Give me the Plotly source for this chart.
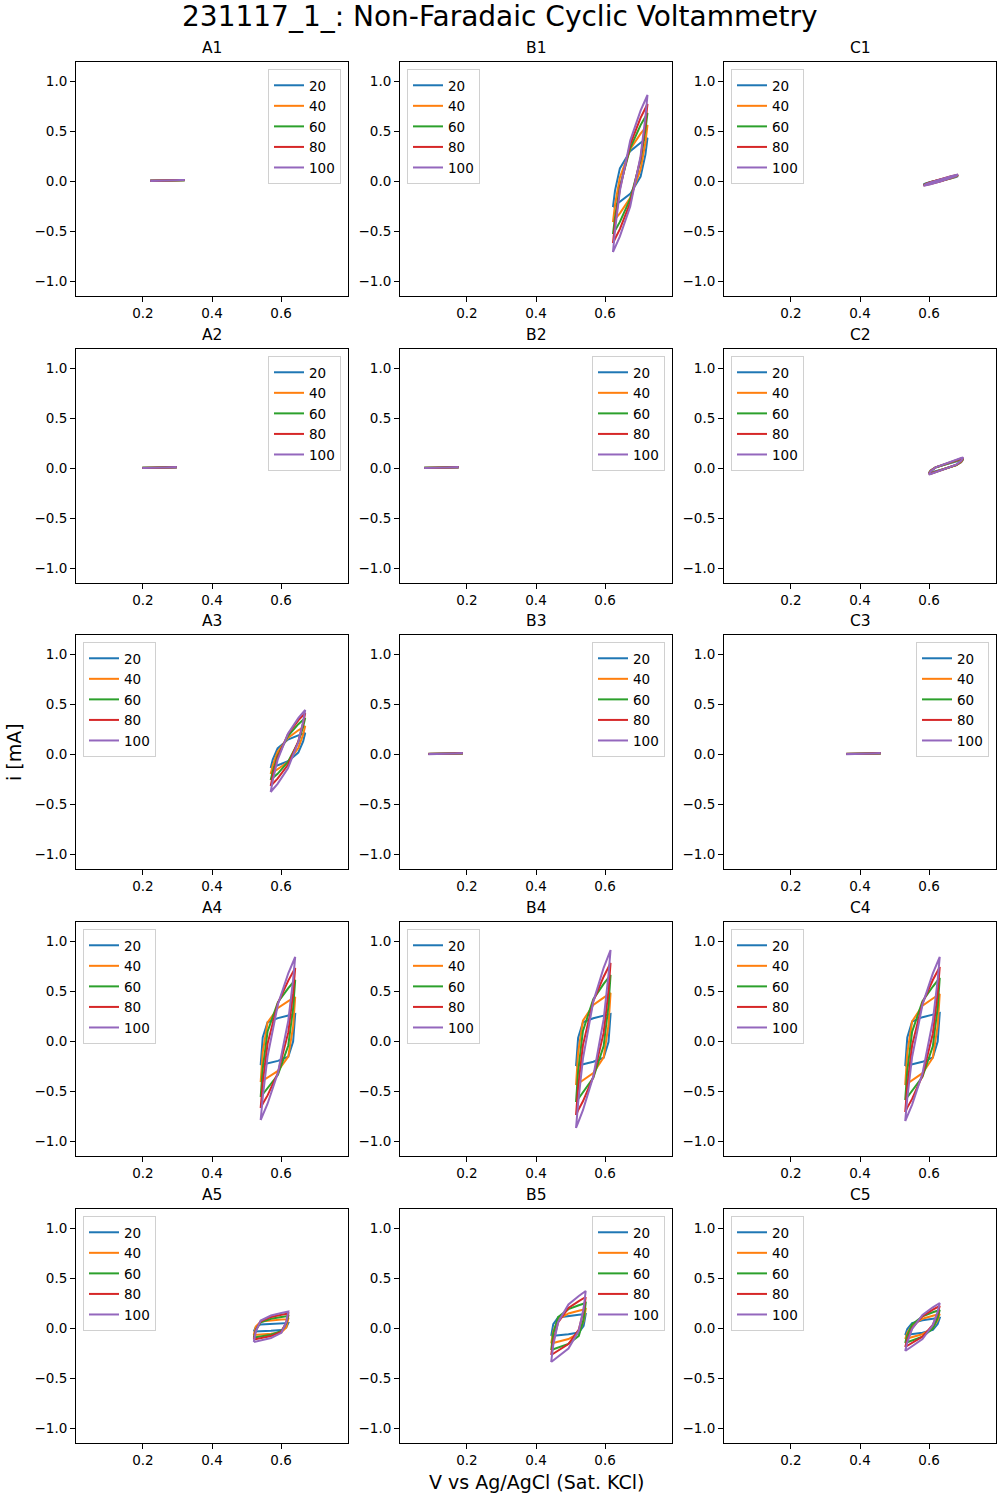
import plotly.graph_objects as go

# scan rates (mV/s) and matplotlib tab10 colours
RATES = ["20", "40", "60", "80", "100"]
COLORS = ["#1f77b4", "#ff7f0e", "#2ca02c", "#d62728", "#9467bd"]

# each panel: potential grid (V) for the forward sweep, and for every scan rate
# the current (mA) along the forward sweep followed by the reverse sweep

V_A1 = [0.221, 0.321]
I_A1 = [
    [0.004, 0.007, 0.005, 0.002],
    [0.003, 0.008, 0.005, 0.001],
    [0.003, 0.008, 0.006, 0.001],
    [0.002, 0.009, 0.006, 0.000],
    [0.002, 0.009, 0.007, 0.000],
]

V_B1 = [0.623, 0.629, 0.643, 0.673, 0.703, 0.717, 0.723]
I_B1 = [
    [-0.26, -0.094, 0.126, 0.299, 0.382, 0.416, 0.43, 0.43, 0.264, 0.044, -0.129, -0.212, -0.246, -0.26],
    [-0.41, -0.235, 0.036, 0.318, 0.473, 0.531, 0.56, 0.56, 0.385, 0.114, -0.167, -0.323, -0.381, -0.41],
    [-0.53, -0.361, -0.058, 0.329, 0.559, 0.644, 0.68, 0.68, 0.511, 0.208, -0.179, -0.409, -0.494, -0.53],
    [-0.62, -0.425, -0.078, 0.367, 0.631, 0.728, 0.77, 0.77, 0.575, 0.228, -0.217, -0.481, -0.578, -0.62],
    [-0.71, -0.49, -0.098, 0.405, 0.703, 0.813, 0.86, 0.86, 0.64, 0.248, -0.255, -0.553, -0.663, -0.71],
]

V_C1 = [0.584, 0.590, 0.604, 0.634, 0.664, 0.678, 0.684]
I_C1 = [
    [-0.035, -0.024, -0.009, 0.016, 0.038, 0.047, 0.05, 0.05, 0.039, 0.025, -0.001, -0.023, -0.032, -0.035],
    [-0.04, -0.028, -0.012, 0.017, 0.042, 0.052, 0.055, 0.055, 0.043, 0.027, -0.002, -0.027, -0.037, -0.04],
    [-0.042, -0.029, -0.011, 0.019, 0.046, 0.056, 0.06, 0.06, 0.047, 0.029, -0.001, -0.028, -0.038, -0.042],
    [-0.045, -0.031, -0.013, 0.019, 0.047, 0.058, 0.062, 0.062, 0.048, 0.03, -0.002, -0.03, -0.041, -0.045],
    [-0.048, -0.033, -0.014, 0.02, 0.049, 0.061, 0.065, 0.065, 0.05, 0.031, -0.003, -0.032, -0.044, -0.048],
]

V_A2 = [0.198, 0.298]
I_A2 = [
    [0.003, 0.006, 0.004, 0.001],
    [0.002, 0.007, 0.004, 0.000],
    [0.002, 0.007, 0.005, 0.000],
    [0.001, 0.008, 0.005, -0.001],
    [0.001, 0.008, 0.006, -0.001],
]

V_B2 = [0.076, 0.176]
I_B2 = [
    [0.003, 0.006, 0.004, 0.001],
    [0.002, 0.007, 0.004, 0.000],
    [0.002, 0.007, 0.005, 0.000],
    [0.001, 0.008, 0.005, -0.001],
    [0.001, 0.008, 0.006, -0.001],
]

V_C2 = [0.599, 0.605, 0.619, 0.649, 0.679, 0.693, 0.699]
I_C2 = [
    [-0.05, -0.023, 0.007, 0.039, 0.069, 0.081, 0.085, 0.085, 0.058, 0.028, -0.004, -0.034, -0.046, -0.05],
    [-0.055, -0.026, 0.006, 0.041, 0.073, 0.086, 0.09, 0.09, 0.061, 0.029, -0.006, -0.038, -0.051, -0.055],
    [-0.06, -0.029, 0.005, 0.042, 0.076, 0.09, 0.095, 0.095, 0.064, 0.03, -0.007, -0.041, -0.055, -0.06],
    [-0.062, -0.03, 0.006, 0.045, 0.081, 0.095, 0.1, 0.1, 0.068, 0.032, -0.007, -0.043, -0.057, -0.062],
    [-0.065, -0.031, 0.006, 0.047, 0.085, 0.1, 0.105, 0.105, 0.071, 0.034, -0.007, -0.045, -0.06, -0.065],
]

V_A3 = [0.570, 0.576, 0.590, 0.620, 0.650, 0.664, 0.670]
I_A3 = [
    [-0.14, -0.056, 0.056, 0.144, 0.186, 0.203, 0.21, 0.21, 0.126, 0.014, -0.073, -0.115, -0.133, -0.14],
    [-0.20, -0.114, 0.021, 0.16, 0.237, 0.266, 0.28, 0.28, 0.194, 0.059, -0.08, -0.157, -0.186, -0.20],
    [-0.26, -0.173, -0.018, 0.18, 0.298, 0.341, 0.36, 0.36, 0.273, 0.118, -0.08, -0.198, -0.241, -0.26],
    [-0.32, -0.218, -0.035, 0.198, 0.337, 0.388, 0.41, 0.41, 0.308, 0.125, -0.108, -0.247, -0.298, -0.32],
    [-0.38, -0.265, -0.06, 0.202, 0.358, 0.415, 0.44, 0.44, 0.325, 0.12, -0.142, -0.298, -0.355, -0.38],
]

V_B3 = [0.088, 0.188]
I_B3 = [
    [0.002, 0.005, 0.003, 0.000],
    [0.002, 0.006, 0.004, 0.000],
    [0.001, 0.006, 0.004, -0.001],
    [0.001, 0.007, 0.005, -0.001],
    [0.000, 0.007, 0.005, -0.002],
]

V_C3 = [0.360, 0.460]
I_C3 = [
    [0.002, 0.005, 0.003, 0.000],
    [0.002, 0.006, 0.004, 0.000],
    [0.001, 0.006, 0.004, -0.001],
    [0.001, 0.007, 0.005, -0.001],
    [0.000, 0.007, 0.005, -0.002],
]

V_A4 = [0.541, 0.547, 0.561, 0.591, 0.621, 0.635, 0.641]
I_A4 = [
    [-0.24, 0.035, 0.188, 0.229, 0.255, 0.265, 0.27, 0.27, -0.005, -0.158, -0.199, -0.225, -0.235, -0.24],
    [-0.41, -0.112, 0.185, 0.33, 0.398, 0.427, 0.44, 0.44, 0.143, -0.155, -0.299, -0.367, -0.397, -0.41],
    [-0.56, -0.279, 0.095, 0.388, 0.528, 0.587, 0.61, 0.61, 0.329, -0.045, -0.338, -0.478, -0.537, -0.56],
    [-0.67, -0.418, -0.026, 0.38, 0.604, 0.688, 0.73, 0.73, 0.478, 0.086, -0.32, -0.544, -0.628, -0.67],
    [-0.79, -0.562, -0.154, 0.367, 0.677, 0.791, 0.84, 0.84, 0.612, 0.204, -0.317, -0.627, -0.741, -0.79],
]

V_B4 = [0.516, 0.522, 0.536, 0.566, 0.596, 0.610, 0.616]
I_B4 = [
    [-0.25, 0.031, 0.187, 0.228, 0.254, 0.265, 0.27, 0.27, -0.011, -0.167, -0.208, -0.234, -0.245, -0.25],
    [-0.44, -0.118, 0.204, 0.36, 0.434, 0.466, 0.48, 0.48, 0.158, -0.164, -0.32, -0.394, -0.426, -0.44],
    [-0.61, -0.305, 0.101, 0.419, 0.571, 0.635, 0.66, 0.66, 0.355, -0.051, -0.369, -0.521, -0.585, -0.61],
    [-0.74, -0.466, -0.041, 0.40, 0.643, 0.734, 0.78, 0.78, 0.506, 0.081, -0.36, -0.603, -0.694, -0.74],
    [-0.87, -0.621, -0.176, 0.394, 0.732, 0.857, 0.91, 0.91, 0.661, 0.216, -0.354, -0.692, -0.817, -0.87],
]

V_C4 = [0.531, 0.537, 0.551, 0.581, 0.611, 0.625, 0.631]
I_C4 = [
    [-0.25, 0.036, 0.195, 0.238, 0.264, 0.275, 0.28, 0.28, -0.006, -0.165, -0.208, -0.234, -0.245, -0.25],
    [-0.44, -0.121, 0.197, 0.352, 0.425, 0.456, 0.47, 0.47, 0.152, -0.167, -0.322, -0.394, -0.426, -0.44],
    [-0.59, -0.297, 0.093, 0.398, 0.545, 0.606, 0.63, 0.63, 0.337, -0.053, -0.358, -0.505, -0.566, -0.59],
    [-0.71, -0.449, -0.043, 0.378, 0.61, 0.697, 0.74, 0.74, 0.479, 0.073, -0.347, -0.579, -0.666, -0.71],
    [-0.80, -0.57, -0.16, 0.364, 0.676, 0.791, 0.84, 0.84, 0.61, 0.20, -0.324, -0.636, -0.751, -0.80],
]

V_A5 = [0.521, 0.527, 0.541, 0.571, 0.601, 0.615, 0.621]
I_A5 = [
    [-0.035, 0.011, 0.036, 0.043, 0.047, 0.049, 0.05, 0.05, 0.004, -0.021, -0.028, -0.032, -0.034, -0.035],
    [-0.07, 0.016, 0.064, 0.077, 0.085, 0.088, 0.09, 0.09, 0.004, -0.044, -0.057, -0.065, -0.068, -0.07],
    [-0.095, -0.02, 0.056, 0.092, 0.109, 0.117, 0.12, 0.12, 0.045, -0.03, -0.067, -0.084, -0.092, -0.095],
    [-0.115, -0.024, 0.067, 0.111, 0.132, 0.141, 0.145, 0.145, 0.054, -0.037, -0.081, -0.102, -0.111, -0.115],
    [-0.14, -0.033, 0.074, 0.125, 0.15, 0.16, 0.165, 0.165, 0.058, -0.048, -0.10, -0.125, -0.135, -0.14],
]

V_B5 = [0.444, 0.450, 0.464, 0.494, 0.524, 0.538, 0.544]
I_B5 = [
    [-0.08, 0.039, 0.105, 0.122, 0.133, 0.138, 0.14, 0.14, 0.021, -0.045, -0.062, -0.073, -0.078, -0.08],
    [-0.155, -0.034, 0.087, 0.145, 0.173, 0.185, 0.19, 0.19, 0.069, -0.051, -0.11, -0.138, -0.15, -0.155],
    [-0.22, -0.055, 0.109, 0.189, 0.227, 0.243, 0.25, 0.25, 0.086, -0.079, -0.159, -0.196, -0.213, -0.22],
    [-0.27, -0.131, 0.055, 0.20, 0.269, 0.298, 0.31, 0.31, 0.171, -0.015, -0.16, -0.229, -0.258, -0.27],
    [-0.34, -0.17, 0.058, 0.235, 0.32, 0.356, 0.37, 0.37, 0.20, -0.028, -0.205, -0.29, -0.326, -0.34],
]

V_C5 = [0.531, 0.537, 0.551, 0.581, 0.611, 0.625, 0.631]
I_C5 = [
    [-0.07, -0.01, 0.049, 0.078, 0.092, 0.097, 0.10, 0.10, 0.041, -0.019, -0.048, -0.061, -0.067, -0.07],
    [-0.11, -0.05, 0.03, 0.093, 0.123, 0.135, 0.14, 0.14, 0.08, 0.0, -0.062, -0.092, -0.105, -0.11],
    [-0.15, -0.071, 0.035, 0.117, 0.157, 0.173, 0.18, 0.18, 0.101, -0.005, -0.087, -0.127, -0.143, -0.15],
    [-0.19, -0.116, -0.001, 0.118, 0.183, 0.208, 0.22, 0.22, 0.146, 0.031, -0.087, -0.153, -0.178, -0.19],
    [-0.23, -0.144, -0.009, 0.13, 0.207, 0.236, 0.25, 0.25, 0.164, 0.029, -0.11, -0.187, -0.216, -0.23],
]

# panel name, data, legend corner (row-major order)
panels = [
    ("A1", V_A1, I_A1, "right"), ("B1", V_B1, I_B1, "left"), ("C1", V_C1, I_C1, "left"),
    ("A2", V_A2, I_A2, "right"), ("B2", V_B2, I_B2, "right"), ("C2", V_C2, I_C2, "left"),
    ("A3", V_A3, I_A3, "left"), ("B3", V_B3, I_B3, "right"), ("C3", V_C3, I_C3, "right"),
    ("A4", V_A4, I_A4, "left"), ("B4", V_B4, I_B4, "left"), ("C4", V_C4, I_C4, "left"),
    ("A5", V_A5, I_A5, "left"), ("B5", V_B5, I_B5, "right"), ("C5", V_C5, I_C5, "left"),
]

W, H = 1000, 1500
FONT = "DejaVu Sans"
col_px = [(76, 348), (400, 672), (724, 996)]
row_px = [(62, 296), (349, 583), (635, 869), (922, 1156), (1209, 1443)]


def px(v):
    return v / W


def py(v):
    return 1 - v / H


fig = go.Figure()
layout = dict(
    width=W, height=H,
    margin=dict(l=0, r=0, t=0, b=0),
    paper_bgcolor="white", plot_bgcolor="white",
    font=dict(family=FONT, color="black"),
    annotations=[],
)

for n, (name, volts, loops, corner) in enumerate(panels, start=1):
    r, c = divmod(n - 1, 3)
    x0, x1 = col_px[c]
    y0, y1 = row_px[r]
    xa = "x" if n == 1 else f"x{n}"
    ya = "y" if n == 1 else f"y{n}"
    lg = "legend" if n == 1 else f"legend{n}"

    for k, rate in enumerate(RATES):
        fig.add_trace(go.Scatter(
            x=volts + volts[::-1], y=loops[k],
            mode="lines", name=rate,
            line=dict(color=COLORS[k], width=2),
            xaxis=xa, yaxis=ya, legend=lg,
        ))

    layout["xaxis" if n == 1 else f"xaxis{n}"] = dict(
        domain=[px(x0), px(x1)], anchor=ya,
        range=[0.006, 0.794], tickvals=[0.2, 0.4, 0.6], ticktext=["0.2", "0.4", "0.6"],
        ticks="outside", ticklen=5, tickcolor="black", tickfont=dict(size=13.5),
        showline=True, linecolor="black", linewidth=1, mirror=True,
        showgrid=False, zeroline=False,
    )
    layout["yaxis" if n == 1 else f"yaxis{n}"] = dict(
        domain=[py(y1), py(y0)], anchor=xa,
        range=[-1.15, 1.19], tickvals=[-1.0, -0.5, 0.0, 0.5, 1.0],
        ticktext=["\u22121.0", "\u22120.5", "0.0", "0.5", "1.0"],
        ticks="outside", ticklen=5, tickcolor="black", tickfont=dict(size=13.5),
        showline=True, linecolor="black", linewidth=1, mirror=True,
        showgrid=False, zeroline=False,
    )

    if corner == "left":
        lx, xanc = px(x0 + 7), "left"
    else:
        lx, xanc = px(x1 - 7), "right"
    layout[lg] = dict(
        x=lx, y=py(y0 + 7), xanchor=xanc, yanchor="top",
        bgcolor="rgba(255,255,255,0.8)", bordercolor="#d0d0d0", borderwidth=1,
        font=dict(size=13.5), itemwidth=30, tracegroupgap=0,
    )

    layout["annotations"].append(dict(
        text=name, x=px((x0 + x1) / 2), y=py(y0 - 14), xref="paper", yref="paper",
        xanchor="center", yanchor="middle", showarrow=False, font=dict(size=15.5),
    ))

# figure title and shared axis labels
layout["annotations"] += [
    dict(text="231117_1_: Non-Faradaic Cyclic Voltammetry", x=px(500), y=py(17),
         xref="paper", yref="paper", xanchor="center", yanchor="middle",
         showarrow=False, font=dict(size=28)),
    dict(text="V vs Ag/AgCl (Sat. KCl)", x=px(536), y=py(1482),
         xref="paper", yref="paper", xanchor="center", yanchor="middle",
         showarrow=False, font=dict(size=19)),
    dict(text="i [mA]", x=px(14), y=py(752), textangle=-90,
         xref="paper", yref="paper", xanchor="center", yanchor="middle",
         showarrow=False, font=dict(size=19)),
]

fig.update_layout(**layout)
# drop the default page margin so the figure sits at the window's corner
fig.write_html("out.html", config={"displayModeBar": False},
               post_script="document.body.style.margin = '0';")
